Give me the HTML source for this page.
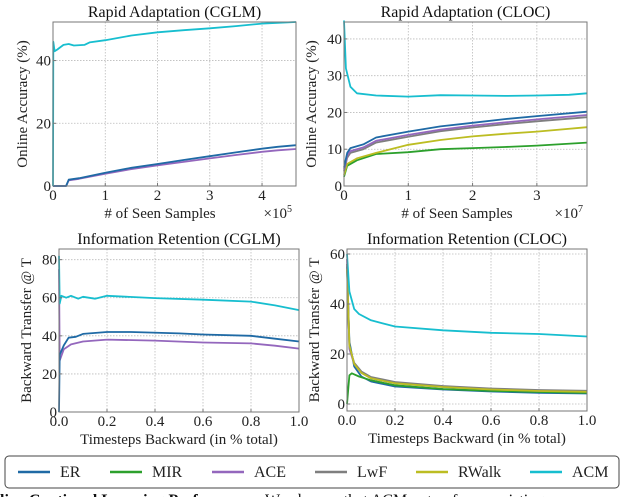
<!DOCTYPE html>
<html><head><meta charset="utf-8"><style>
html,body{margin:0;padding:0;background:#fff;width:640px;height:497px;overflow:hidden}
svg{display:block;font-family:"Liberation Serif",serif}
</style></head><body>
<svg id="fig" width="640" height="497" viewBox="0 0 640 497" xmlns="http://www.w3.org/2000/svg"></svg>
<script>
// ---- data ----
const colorsByMethod = {ER:"#1f6aa5",MIR:"#2ca02c",ACE:"#9467bd",LwF:"#7f7f7f",RWalk:"#bcbd22",ACM:"#17becf"};
const legendLabels = ["ER","MIR","ACE","LwF","RWalk","ACM"];

// Panel 1: Rapid Adaptation (CGLM), x in 1e5
const p1_ER  = [[0,0],[0.25,0],[0.3,2],[0.5,2.5],[1,4.2],[1.5,5.8],[2,7],[2.5,8.3],[3,9.5],[3.5,10.7],[4,11.9],[4.3,12.5],[4.65,13]];
const p1_ACE = [[0,0],[0.25,0],[0.3,1.8],[0.5,2.3],[1,3.9],[1.5,5.4],[2,6.6],[2.5,7.7],[3,8.8],[3.5,9.9],[4,10.9],[4.3,11.4],[4.65,11.8]];
const p1_ACM = [[0,0],[0.005,46],[0.03,43],[0.08,43.5],[0.12,44],[0.2,45],[0.3,45.3],[0.4,44.8],[0.6,45],[0.7,45.8],[1,46.5],[1.5,48],[2,49],[2.5,49.7],[3,50.3],[3.5,51],[4,51.8],[4.65,52.3]];

// Panel 2: Rapid Adaptation (CLOC), x in 1e7
const p2_ACM   = [[0,45],[0.03,32],[0.1,27],[0.2,25.2],[0.5,24.6],[1,24.3],[1.5,24.7],[2,24.6],[2.5,24.5],[3,24.6],[3.5,24.8],[3.78,25.2]];
const p2_ER    = [[0,5],[0.05,9],[0.1,10.3],[0.3,11.3],[0.5,13.2],[1,14.8],[1.5,16.2],[2,17.2],[2.5,18.2],[3,19],[3.78,20.2]];
const p2_ACE   = [[0,4.5],[0.05,8.3],[0.1,9.5],[0.3,10.5],[0.5,12.3],[1,13.9],[1.5,15.3],[2,16.4],[2.5,17.3],[3,18.1],[3.78,19.3]];
const p2_LwF   = [[0,4],[0.05,7.7],[0.1,9],[0.3,10],[0.5,11.8],[1,13.4],[1.5,14.9],[2,15.9],[2.5,16.8],[3,17.6],[3.78,18.7]];
const p2_RWalk = [[0,3],[0.05,6],[0.2,7.5],[0.5,9],[1,11.2],[1.5,12.5],[2,13.5],[2.5,14.2],[3,14.8],[3.78,16]];
const p2_MIR   = [[0,2.5],[0.05,5.5],[0.2,7],[0.5,8.7],[1,9.2],[1.5,10],[2,10.3],[2.5,10.6],[3,11],[3.78,11.8]];

// Panel 3: Information Retention (CGLM)
const p3_ACM = [[0,82],[0.003,57],[0.01,61],[0.03,60],[0.05,61],[0.08,59.5],[0.1,60.5],[0.15,59.5],[0.2,61],[0.4,59.8],[0.6,59],[0.8,58],[0.9,56],[1,53.5]];
const p3_ER  = [[0,0],[0.003,30],[0.02,35],[0.04,39],[0.07,39.5],[0.1,41],[0.2,42],[0.3,42],[0.5,41.3],[0.6,40.7],[0.8,40],[0.9,38.5],[1,37]];
const p3_ACE = [[0,75],[0.003,27],[0.02,33],[0.05,35.5],[0.1,37],[0.2,38],[0.4,37.5],[0.6,36.5],[0.8,36],[0.9,34.8],[1,33.3]];

// Panel 4: Information Retention (CLOC)
const p4_ACM   = [[0,60],[0.01,45],[0.03,38],[0.05,36],[0.1,33.5],[0.2,31],[0.4,29.5],[0.6,28.5],[0.8,28],[1,27]];
const p4_ER    = [[0,55],[0.01,25],[0.03,15],[0.06,11],[0.1,9],[0.2,7],[0.4,5.8],[0.6,5],[0.8,4.5],[1,4.2]];
const p4_MIR   = [[0,0],[0.01,11.5],[0.02,12.3],[0.05,11],[0.1,9.5],[0.2,7.5],[0.4,6],[0.6,5.3],[0.8,4.8],[1,4.5]];
const p4_ACE   = [[0,58],[0.01,22],[0.03,16],[0.06,12.5],[0.1,10.3],[0.2,8.3],[0.4,6.8],[0.6,5.9],[0.8,5.3],[1,5]];
const p4_LwF   = [[0,56],[0.01,23],[0.03,16.5],[0.06,13],[0.1,10.8],[0.2,8.8],[0.4,7.2],[0.6,6.2],[0.8,5.6],[1,5.3]];
const p4_RWalk = [[0,54],[0.01,23.5],[0.03,16],[0.06,12.5],[0.1,10.3],[0.2,8.3],[0.4,6.8],[0.6,5.8],[0.8,5.2],[1,4.9]];

const p1_xticks=[0,1,2,3,4], p1_yticks=[0,20,40];
const p2_xticks=[0,1,2,3], p2_yticks=[0,10,20,30,40];
const p34_xticks=[0,0.2,0.4,0.6,0.8,1.0], p3_yticks=[0,20,40,60,80], p4_yticks=[0,20,40,60];

const NS="http://www.w3.org/2000/svg";
const svg=document.getElementById('fig');
function mk(tag,attrs,parent){const e=document.createElementNS(NS,tag);for(const k in attrs)e.setAttribute(k,attrs[k]);(parent||svg).appendChild(e);return e;}

function panel(cfg){
  const g=mk('g',{});
  
  
  const sx=v=>cfg.x0+(v-cfg.xmin)/(cfg.xmax-cfg.xmin)*(cfg.x1-cfg.x0);
  const sy=v=>cfg.y1-(v-cfg.ymin)/(cfg.ymax-cfg.ymin)*(cfg.y1-cfg.y0);
  cfg.xticks.forEach(t=>{const l=mk('line',{x1:sx(t),x2:sx(t),y1:cfg.y0,y2:cfg.y1,stroke:'#bbb','stroke-width':0.8,'stroke-dasharray':'1.5,1.5'},g);});
  cfg.yticks.forEach(t=>{const l=mk('line',{x1:cfg.x0,x2:cfg.x1,y1:sy(t),y2:sy(t),stroke:'#bbb','stroke-width':0.8,'stroke-dasharray':'1.5,1.5'},g);});
  cfg.series.forEach(s=>{
    const d=s.data.map((p,i)=>(i?'L':'M')+sx(p[0]).toFixed(1)+','+sy(p[1]).toFixed(1)).join('');
    const path=mk('path',{d:d,fill:'none',stroke:colorsByMethod[s.k],'stroke-width':1.8,'stroke-linejoin':'round'},g);
    
    
  });
  const fr=mk('rect',{x:cfg.x0,y:cfg.y0,width:cfg.x1-cfg.x0,height:cfg.y1-cfg.y0,fill:'none',stroke:'#777','stroke-width':1},g);
  
  cfg.xticks.forEach(t=>{const tx=mk('text',{x:sx(t),y:cfg.y1+14,'font-size':15,'text-anchor':'middle',fill:'#222'},g);tx.textContent=cfg.xfmt?cfg.xfmt(t):t;
    mk('line',{x1:sx(t),x2:sx(t),y1:cfg.y1,y2:cfg.y1-3,stroke:'#777'},g);});
  cfg.yticks.forEach(t=>{const tx=mk('text',{x:cfg.x0-2,y:sy(t)+5,'font-size':15,'text-anchor':'end',fill:'#222'},g);tx.textContent=t;
    mk('line',{x1:cfg.x0,x2:cfg.x0+3,y1:sy(t),y2:sy(t),stroke:'#777'},g);});
  const ti=mk('text',{x:(cfg.x0+cfg.x1)/2,y:cfg.y0-5,'font-size':16,'text-anchor':'middle',fill:'#111'},g);ti.textContent=cfg.title;
  
  const xl=mk('text',{x:cfg.xlx,y:cfg.y1+32,'font-size':15,'text-anchor':'middle',fill:'#222'},g);xl.textContent=cfg.xlabel;
  
  if(cfg.exp){const ex=mk('text',{x:cfg.x1-4,y:cfg.y1+32,'font-size':15,'text-anchor':'end',fill:'#222'},g);ex.innerHTML='×10<tspan dy="-6" font-size="10">'+cfg.exp+'</tspan>';
    }
  const yc=(cfg.y0+cfg.y1)/2;
  const yl=mk('text',{x:cfg.ylx,y:yc,'font-size':15,'text-anchor':'middle',fill:'#222',transform:`rotate(-90 ${cfg.ylx} ${yc})`},g);yl.textContent=cfg.ylabel;
  
}

panel({name:'chart-rapid-adaptation-cglm',x0:53,x1:296,y0:22,y1:186,xmin:0,xmax:4.65,ymin:0,ymax:52.3,xticks:p1_xticks,yticks:p1_yticks,
  title:'Rapid Adaptation (CGLM)',xlabel:'# of Seen Samples',xlx:160,exp:'5',ylabel:'Online Accuracy (%)',ylx:27,
  series:[{k:'ACE',data:p1_ACE},{k:'ER',data:p1_ER},{k:'ACM',data:p1_ACM}]});
panel({name:'chart-rapid-adaptation-cloc',x0:344,x1:587,y0:22,y1:186,xmin:0,xmax:3.78,ymin:0,ymax:44.6,xticks:p2_xticks,yticks:p2_yticks,
  title:'Rapid Adaptation (CLOC)',xlabel:'# of Seen Samples',xlx:457,exp:'7',ylabel:'Online Accuracy (%)',ylx:316,
  series:[{k:'MIR',data:p2_MIR},{k:'RWalk',data:p2_RWalk},{k:'LwF',data:p2_LwF},{k:'ACE',data:p2_ACE},{k:'ER',data:p2_ER},{k:'ACM',data:p2_ACM}]});
panel({name:'chart-information-retention-cglm',x0:59,x1:299,y0:249,y1:412,xmin:0,xmax:1,ymin:0,ymax:85.6,xticks:p34_xticks,yticks:p3_yticks,xfmt:t=>t.toFixed(1),
  title:'Information Retention (CGLM)',xlabel:'Timesteps Backward (in % total)',xlx:179,ylabel:'Backward Transfer @ T',ylx:31,
  series:[{k:'ACE',data:p3_ACE},{k:'ER',data:p3_ER},{k:'ACM',data:p3_ACM}]});
panel({name:'chart-information-retention-cloc',x0:347,x1:587,y0:249,y1:411,xmin:0,xmax:1,ymin:-2.8,ymax:62,xticks:p34_xticks,yticks:p4_yticks,xfmt:t=>t.toFixed(1),
  title:'Information Retention (CLOC)',xlabel:'Timesteps Backward (in % total)',xlx:467,ylabel:'Backward Transfer @ T',ylx:319,
  series:[{k:'ER',data:p4_ER},{k:'MIR',data:p4_MIR},{k:'ACE',data:p4_ACE},{k:'LwF',data:p4_LwF},{k:'RWalk',data:p4_RWalk},{k:'ACM',data:p4_ACM}]});

const lg=mk('g',{});


mk('rect',{x:5,y:456,width:614,height:32,rx:4,fill:'#fff',stroke:'#444','stroke-width':1},lg);
const lx=[18,110,212,315,416,530];
legendLabels.forEach((k,i)=>{
  const e=mk('g',{},lg);
  
  
  mk('line',{x1:lx[i],x2:lx[i]+32,y1:472,y2:472,stroke:colorsByMethod[k],'stroke-width':2.5},e);
  const t=mk('text',{x:lx[i]+42,y:477,'font-size':16,fill:'#222'},e);t.textContent=k;
});
const cap=mk('text',{x:0,y:505,'font-size':16,fill:'#111'});
cap.innerHTML='<tspan font-weight="bold">line Continual Learning Performance.</tspan> We observe that ACM outperforms existing';


</script>
</body></html>
